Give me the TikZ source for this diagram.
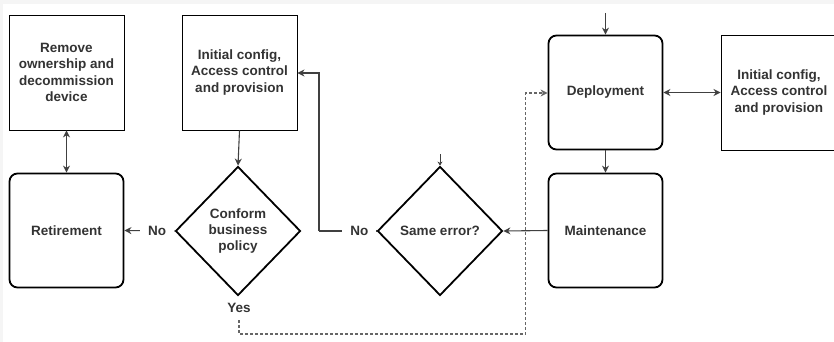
\documentclass[tikz,border=0pt]{standalone}
\usepackage{fontspec}
\setmainfont{Liberation Sans}
\usetikzlibrary{shapes.geometric,arrows.meta}
\tikzset{
  sqbox/.style={draw=black, line width=0.9pt, fill=white, minimum width=115pt, minimum height=115pt, inner sep=0pt, align=center, font=\fontsize{13.5}{16.2}\selectfont\bfseries, text=black!80},
  rbox/.style={draw=black, line width=1.8pt, rounded corners=8pt, fill=white, minimum width=114pt, minimum height=114pt, inner sep=0pt, align=center, font=\fontsize{13.5}{16.2}\selectfont\bfseries, text=black!80},
  dia/.style={draw=black, line width=1.8pt, diamond, fill=white, minimum width=125pt, minimum height=129pt, inner sep=0pt, align=center, font=\fontsize{13.5}{16.2}\selectfont\bfseries, text=black!80},
  conn/.style={draw=black!75, line width=1.1pt, -{Stealth[length=7pt,width=7pt]}},
  dconn/.style={draw=black!75, line width=1.1pt, {Stealth[length=7pt,width=7pt]}-{Stealth[length=7pt,width=7pt]}},
  dash conn/.style={draw=black!60, line width=1.1pt, dash pattern=on 2.5pt off 2.5pt, -{Stealth[length=7pt,width=7pt]}},
  lbl/.style={fill=white, inner xsep=8pt, inner ysep=2pt, font=\fontsize{13.5}{16.2}\selectfont\bfseries, text=black!80}
}
\begin{document}
\begin{tikzpicture}[x=1pt,y=-1pt]
\useasboundingbox (0,0) rectangle (834,342);
\fill[black!4] (0,0) rectangle (834,4);
\fill[black!4] (0,0) rectangle (3,342);

\node[sqbox] (remove) at (66.5,72.5) {Remove\\ownership and\\decommission\\device};
\node[sqbox] (init1) at (239.5,72.5) {Initial config,\\Access control\\and provision};
\node[rbox] (retire) at (66.5,230.5) {Retirement};
\node[dia] (conform) at (238,231) {Conform\\business\\policy};
\node[dia] (same) at (440,231) {Same error?};
\node[rbox] (deploy) at (605.5,92.5) {Deployment};
\node[rbox] (maint) at (605.5,230.5) {Maintenance};
\node[sqbox, minimum width=116pt, anchor=west] (init2) at (720.5,92.5) {Initial config,\\Access control\\and provision};

\coordinate (topin) at (605.5,13);
\coordinate (sametop) at (440,154);
\coordinate (d1) at (239,320);
\coordinate (d2) at (239,334);
\coordinate (d3) at (525.5,334);
\coordinate (d4) at (525.5,93);
\coordinate (n1) at (319,231);
\coordinate (n2) at (319,73);

\draw[dconn] (remove.south) -- (retire.north);
\draw[conn] (init1.south) -- (conform.north);
\draw[conn] (conform.west) -- node[lbl, pos=0.35] {No} (retire.east);
\draw[draw=black!75, line width=1.1pt] (same.west) -- node[lbl, pos=0.3] {No} (n1);
\draw[conn] (n1) -- (n2) -- (init1.east |- n2);
\draw[conn] (maint.west) -- (same.east);
\draw[conn] (deploy.south) -- (maint.north);
\draw[conn] (topin) -- (deploy.north);
\draw[dconn] (deploy.east) -- (init2.west);
\draw[draw=black!75, line width=1pt, -{Stealth[length=4pt,width=5pt]}] (sametop) -- (same.north);
\node[lbl, fill=none] (yes) at (239,308) {Yes};
\draw[dash conn] (d1) -- (d2) -- (d3) -- (d4) -- (deploy.west |- d4);
\end{tikzpicture}
\end{document}
